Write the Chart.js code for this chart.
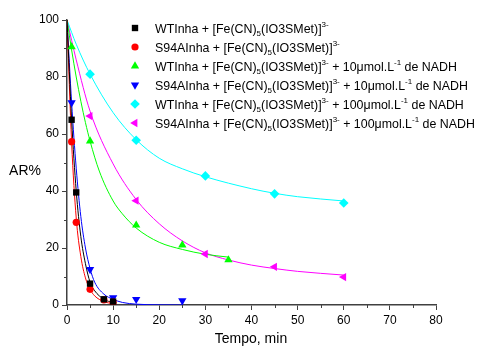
<!DOCTYPE html>
<html>
<head>
<meta charset="utf-8">
<script src="https://cdn.jsdelivr.net/npm/chart.js@4"></script>
<style>
  html, body { margin: 0; padding: 0; background: #fff; }
</style>
</head>
<body>
<canvas id="arChart" width="477" height="348"></canvas>
<script>
// measured points (Tempo in min, AR%)
const wtX = [1, 2, 5, 8, 10];
const wtY = [65, 39.5, 7.5, 2, 1.2];
const s94X = [1, 2, 5, 8, 10];
const s94Y = [57.3, 29, 5.5, 1.8, 1];
const wt10X = [1, 5, 15, 25, 35];
const wt10Y = [90.6, 57.5, 28, 21, 15.8];
const s9410X = [1, 5, 10, 15, 25];
const s9410Y = [71, 12.5, 2.6, 2, 1.5];
const wt100X = [5, 15, 30, 45, 60];
const wt100Y = [81, 57.8, 45.3, 39, 35.8];
const s94100X = [5, 15, 30, 45, 60];
const s94100Y = [66.3, 36.6, 17.9, 13.4, 9.8];

// fitted decay curves
const wtFitX = [0, 1, 2, 3, 4, 5, 6, 8, 10];
const wtFitY = [100, 65, 40, 24, 14.5, 8, 5, 2, 0.8];
const s94FitX = [0, 1, 2, 3, 4, 5, 6, 8, 10];
const s94FitY = [100, 57, 30.5, 17, 9.5, 5.5, 3.2, 1.2, 0.4];
const wt10FitX = [0, 1, 2, 3, 4, 5, 7, 10, 12, 15, 20, 25, 30, 35];
const wt10FitY = [100, 89.5, 80, 71.5, 64, 57.5, 47, 36.5, 32, 27, 22, 19.5, 17.8, 16.8];
const s9410FitX = [0, 1, 2, 3, 4, 5, 6, 8, 10, 12, 15, 20, 25];
const s9410FitY = [100, 71, 48, 31, 20, 12.8, 8, 3.8, 2, 0.9, 0.3, 0.05, 0];
const wt100FitX = [0, 2, 5, 10, 15, 20, 25, 30, 40, 45, 50, 60];
const wt100FitY = [100, 91.5, 81, 67.5, 58, 51.5, 47.8, 45, 40.8, 39.2, 38, 36.5];
const s94100FitX = [0, 2, 5, 10, 15, 20, 25, 30, 35, 40, 45, 50, 60];
const s94100FitY = [100, 86, 68, 49.5, 37, 28.5, 22.5, 18.3, 15.8, 14, 12.8, 11.8, 10.5];

const xTicks = [0, 10, 20, 30, 40, 50, 60, 70, 80];
const yTicks = [0, 20, 40, 60, 80, 100];
const xMinor = [5, 15, 25, 35, 45, 55, 65, 75];
const yMinor = [10, 30, 50, 70, 90];

const colors = ["#000000", "#ff0000", "#00ff00", "#0000ff", "#00ffff", "#ff00ff"];
const styles = ["rect", "circle", "triangle", "triangle", "rectRot", "triangle"];
const rotations = [0, 0, 0, 180, 0, -90];
const radii = [4.5, 3.6, 4.8, 4.8, 4.8, 4.8];

const pointSets = [[wtX, wtY], [s94X, s94Y], [wt10X, wt10Y], [s9410X, s9410Y], [wt100X, wt100Y], [s94100X, s94100Y]];
const fitSets = [[wtFitX, wtFitY], [s94FitX, s94FitY], [wt10FitX, wt10FitY], [s9410FitX, s9410FitY], [wt100FitX, wt100FitY], [s94100FitX, s94100FitY]];

// legend text pieces: [text, "sub" | "sup" | ""]
const legendLabels = [
  [["WTInha + [Fe(CN)", ""], ["5", "sub"], ["(IO3SMet)]", ""], ["3-", "sup"]],
  [["S94AInha + [Fe(CN)", ""], ["5", "sub"], ["(IO3SMet)]", ""], ["3-", "sup"]],
  [["WTInha + [Fe(CN)", ""], ["5", "sub"], ["(IO3SMet)]", ""], ["3-", "sup"], [" + 10\u03bcmol.L", ""], ["-1", "sup"], [" de NADH", ""]],
  [["S94AInha + [Fe(CN)", ""], ["5", "sub"], ["(IO3SMet)]", ""], ["3-", "sup"], [" + 10\u03bcmol.L", ""], ["-1", "sup"], [" de NADH", ""]],
  [["WTInha + [Fe(CN)", ""], ["5", "sub"], ["(IO3SMet)]", ""], ["3-", "sup"], [" + 100\u03bcmol.L", ""], ["-1", "sup"], [" de NADH", ""]],
  [["S94AInha + [Fe(CN)", ""], ["5", "sub"], ["(IO3SMet)]", ""], ["3-", "sup"], [" + 100\u03bcmol.L", ""], ["-1", "sup"], [" de NADH", ""]]
];

const FONT = "'Liberation Sans', Arial, sans-serif";
const AXIS = "#404040";

function toXY(xs, ys) {
  return xs.map((x, i) => ({ x: x, y: ys[i] }));
}

var datasets = [];
pointSets.forEach((s, i) => {
  datasets.push({
    data: toXY(s[0], s[1]),
    showLine: false,
    pointStyle: styles[i],
    rotation: rotations[i],
    pointRadius: radii[i],
    pointHoverRadius: radii[i],
    backgroundColor: colors[i],
    borderColor: colors[i],
    pointBorderWidth: 0
  });
});
fitSets.forEach((s, i) => {
  datasets.push({
    data: toXY(s[0], s[1]),
    showLine: true,
    pointRadius: 0,
    borderColor: colors[i],
    borderWidth: 1,
    cubicInterpolationMode: "monotone",
    fill: false
  });
});

function drawMarker(ctx, style, rot, r, x, y, color) {
  ctx.save();
  ctx.fillStyle = color;
  ctx.translate(x, y);
  ctx.rotate(rot * Math.PI / 180);
  ctx.beginPath();
  if (style == "rect") {
    var h = r * Math.SQRT1_2;
    ctx.rect(-h, -h, 2 * h, 2 * h);
  } else if (style == "circle") {
    ctx.arc(0, 0, r, 0, Math.PI * 2);
  } else if (style == "rectRot") {
    ctx.moveTo(0, -r); ctx.lineTo(r, 0); ctx.lineTo(0, r); ctx.lineTo(-r, 0);
  } else {
    for (var k = 0; k < 3; k++) {
      var a = -Math.PI / 2 + k * 2 * Math.PI / 3;
      if (k == 0) ctx.moveTo(r * Math.cos(a), r * Math.sin(a));
      else ctx.lineTo(r * Math.cos(a), r * Math.sin(a));
    }
  }
  ctx.closePath();
  ctx.fill();
  ctx.restore();
}

const extras = {
  id: "extras",
  afterDraw(chart) {
    const ctx = chart.ctx;
    const xs = chart.scales.x, ys = chart.scales.y;
    const area = chart.chartArea;
    ctx.save();

    // short minor ticks
    ctx.strokeStyle = AXIS;
    ctx.lineWidth = 1;
    ctx.beginPath();
    xMinor.forEach((v) => {
      const px = Math.round(xs.getPixelForValue(v)) + 0.5;
      ctx.moveTo(px, area.bottom);
      ctx.lineTo(px, area.bottom + 3);
    });
    yMinor.forEach((v) => {
      const py = Math.round(ys.getPixelForValue(v)) + 0.5;
      ctx.moveTo(area.left, py);
      ctx.lineTo(area.left - 3, py);
    });
    ctx.stroke();

    // axis titles
    ctx.fillStyle = "#000";
    ctx.font = "14px " + FONT;
    ctx.textAlign = "center";
    ctx.textBaseline = "middle";
    ctx.fillText("AR%", 25, 171);
    ctx.fillText("Tempo, min", 251, 339);

    // legend
    ctx.textAlign = "left";
    ctx.textBaseline = "alphabetic";
    const rowY = [28, 47, 66, 85, 104, 123];
    legendLabels.forEach((parts, i) => {
      const y = rowY[i];
      drawMarker(ctx, styles[i], rotations[i], radii[i], 135, y, colors[i]);
      let x = 155;
      const base = y + 4.5;
      parts.forEach((p) => {
        if (p[1] == "") {
          ctx.font = "12.4px " + FONT;
          ctx.fillText(p[0], x, base);
        } else if (p[1] == "sub") {
          ctx.font = "8px " + FONT;
          ctx.fillText(p[0], x, base + 3);
        } else {
          ctx.font = "8px " + FONT;
          ctx.fillText(p[0], x, base - 6);
        }
        x += ctx.measureText(p[0]).width;
      });
    });
    ctx.restore();
  }
};

function majorTickColor(c) {
  return c.tick && c.tick.label !== "" ? AXIS : "rgba(0,0,0,0)";
}

new Chart("arChart", {
  type: "scatter",
  data: { datasets: datasets },
  plugins: [extras],
  options: {
    responsive: false,
    animation: false,
    devicePixelRatio: 1,
    layout: { padding: { left: 0, right: 41, top: 20, bottom: 0 } },
    plugins: {
      legend: { display: false },
      tooltip: { enabled: false }
    },
    scales: {
      x: {
        type: "linear",
        min: 0,
        max: 80,
        afterFit: (scale) => { scale.height = 43; },
        afterBuildTicks: (scale) => {
          scale.ticks = xTicks.map((v) => ({ value: v }));
        },
        ticks: {
          autoSkip: false,
          maxRotation: 0,
          padding: 3,
          color: "#000",
          font: { family: FONT, size: 12 }
        },
        grid: { drawOnChartArea: false, drawTicks: true, tickLength: 5, color: AXIS, lineWidth: 1 },
        border: { display: true, color: AXIS, width: 1.5 }
      },
      y: {
        type: "linear",
        min: 0,
        max: 100,
        afterFit: (scale) => { scale.width = 67; },
        afterBuildTicks: (scale) => {
          scale.ticks = yTicks.map((v) => ({ value: v }));
        },
        ticks: {
          autoSkip: false,
          padding: 3,
          color: "#000",
          font: { family: FONT, size: 12 }
        },
        grid: { drawOnChartArea: false, drawTicks: true, tickLength: 5, color: AXIS, lineWidth: 1 },
        border: { display: true, color: AXIS, width: 1.5 }
      }
    }
  }
});
</script>
</body>
</html>
